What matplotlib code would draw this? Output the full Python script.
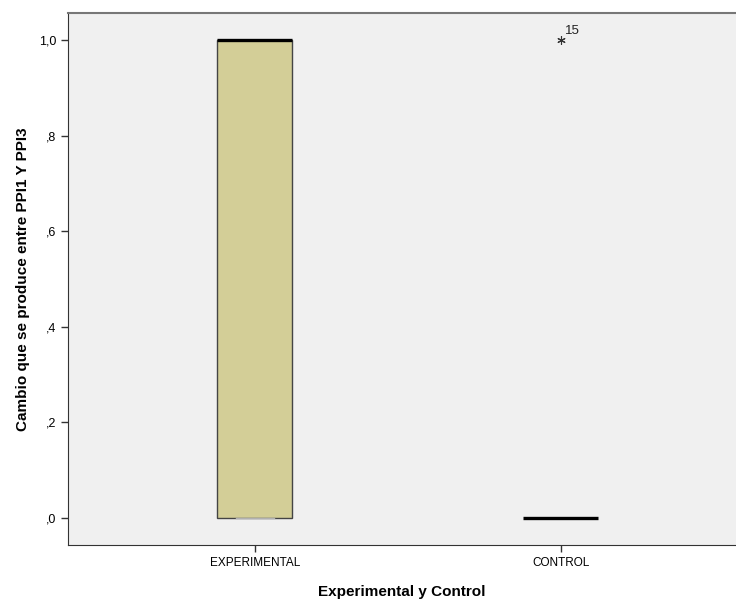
import matplotlib
matplotlib.use("Agg")
import matplotlib.pyplot as plt

plt.rcParams['font.family'] = ['Liberation Sans', 'DejaVu Sans']

# Data: cambio (0 = no, 1 = si) por grupo
groups = ["EXPERIMENTAL", "CONTROL"]
experimental = [0, 0, 0, 0, 0, 0, 0, 1, 1, 1, 1, 1, 1, 1, 1]
control = [0, 0, 0, 0, 0, 0, 0, 0, 0, 0, 0, 0, 0, 0, 1]
outlier_case = "15"
yticks = [0.0, 0.2, 0.4, 0.6, 0.8, 1.0]
ytick_labels = [",0", ",2", ",4", ",6", ",8", "1,0"]

fig = plt.figure(figsize=(7.36, 6.01), dpi=100)
ax = fig.add_axes([0.0924, 0.0932, 0.9076, 0.8852])
ax.set_facecolor("#f0f0f0")

bp = ax.boxplot([experimental, control], positions=[1, 2], widths=0.245,
                patch_artist=True,
                boxprops=dict(facecolor="#d3ce97", edgecolor="#444444", linewidth=1.0),
                medianprops=dict(color="black", linewidth=2.4),
                whiskerprops=dict(color="#444444", linewidth=1.0),
                capprops=dict(color="#b0b0b0", linewidth=1.0),
                flierprops=dict(marker=(6, 2, 0), markersize=6, markeredgecolor="#333333",
                                markeredgewidth=0.8))
# control box has zero height -> hide its fill outline
bp['boxes'][1].set_visible(False)

# case label of the outlier
ax.annotate(outlier_case, xy=(2, control[-1]), xytext=(3, 4), textcoords="offset points",
            fontsize=9.5, color="#222222")

ax.set_xlim(0.389, 2.572)
ax.set_ylim(-0.0565, 1.0565)
ax.set_xticks([1, 2])
ax.set_xticklabels(groups, fontsize=8.5)
ax.set_yticks(yticks)
ax.set_yticklabels(ytick_labels, fontsize=9)
ax.tick_params(direction="out", length=5, color="#333333", width=1)

ax.spines['right'].set_visible(False)
for s in ['left', 'bottom']:
    ax.spines[s].set_color("#333333")
ax.spines['top'].set_color("#777777")
ax.spines['top'].set_linewidth(1.5)

ax.set_xlabel("Experimental y Control", fontsize=11, fontweight="bold", labelpad=12)
ax.set_ylabel("Cambio que se produce entre PPI1 Y PPI3", fontsize=11, fontweight="bold",
              labelpad=6)

fig.savefig("out.png", dpi=100)
